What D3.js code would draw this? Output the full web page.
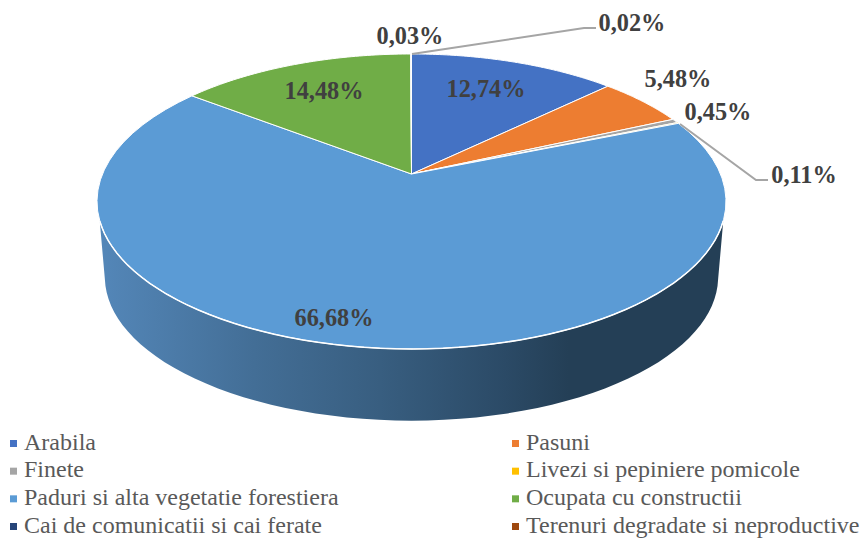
<!DOCTYPE html>
<html><head><meta charset="utf-8">
<script src="https://cdn.jsdelivr.net/npm/d3@7"></script>
<style>html,body{margin:0;padding:0;background:#fff}svg{display:block}</style>
</head><body><svg id="c" width="862" height="538"></svg>
<script>
const categories=["Arabila","Pasuni","Finete","Livezi si pepiniere pomicole","Paduri si alta vegetatie forestiera","Ocupata cu constructii","Cai de comunicatii si cai ferate","Terenuri degradate si neproductive"];
const values=[12.74,5.48,0.45,0.11,66.68,14.48,0.03,0.02];
const labels=["12,74%","5,48%","0,45%","0,11%","66,68%","14,48%","0,03%","0,02%"];
const colors=["#4472c4","#ed7d31","#a5a5a5","#ffc000","#5b9bd5","#70ad47","#264478","#9e480e"];
const labelPos=[[486,91],[678,81],[718,114],[804,177],[334,320],[324,93],[410,38],[632,25]];
const leaders=[null,null,null,[[680,124],[756,180],[768,180]],null,null,null,[[412,54],[584,28],[596,28]]];

const svg=d3.select("#c");
const cx=411.5,apexY=174,a=309,b=142.4,k=0.1864;
function proj(t,r=1,dy=0,s=1){const u=r*Math.sin(t),v=-r*Math.cos(t),w=1-k*v;
  return [cx+s*a*u/w, apexY+dy+s*b*v/w];}
const pie=d3.pie().value(d=>d).sort(null).startAngle(0).endAngle(2*Math.PI);
const arcs=pie(values);
const line=d3.line();
const samples=(t0,t1,f)=>d3.range(0,61).map(i=>f(t0+(t1-t0)*i/60));

const grad=svg.append("defs").append("linearGradient").attr("id","side").attr("gradientUnits","userSpaceOnUse")
 .attr("x1",97).attr("x2",726).attr("y1",0).attr("y2",0);
[[0,"#5487b9"],[0.25,"#436e96"],[0.45,"#385e80"],[0.65,"#2b4a66"],[0.75,"#243f56"],[1,"#243f56"]].forEach(([o,c])=>grad.append("stop").attr("offset",o).attr("stop-color",c));

// side wall
const rimOff=0.316,lowOff=0.25;
const rim=samples(Math.PI/2+rimOff,3*Math.PI/2-rimOff,t=>proj(t));
const low=samples(3*Math.PI/2-lowOff,Math.PI/2+lowOff,t=>proj(t,1,76,0.975));
svg.append("path").attr("d",line(rim.concat(low))+"Z").attr("fill","url(#side)");

// top slices
svg.append("g").selectAll("path").data(arcs).join("path")
 .attr("d",d=>line([proj(0,0)].concat(samples(d.startAngle,d.endAngle,t=>proj(t))))+"Z")
 .attr("fill",(d,i)=>colors[i]).attr("stroke","#fff").attr("stroke-width",1).attr("stroke-linejoin","round");

// bright rim where the top meets the wall
svg.append("path").attr("d",line(rim)).attr("fill","none").attr("stroke","#fff").attr("stroke-width",1.5);

// leaders
svg.append("g").selectAll("path").data(leaders.filter(Boolean)).join("path")
 .attr("d",d=>line(d)).attr("fill","none").attr("stroke","#a5a5a5").attr("stroke-width",2);

// labels
svg.append("g").selectAll("text").data(labels).join("text")
 .attr("x",(d,i)=>labelPos[i][0]).attr("y",(d,i)=>labelPos[i][1])
 .attr("text-anchor","middle").attr("dominant-baseline","middle")
 .attr("font-family","'Liberation Serif'").attr("font-weight","bold").attr("font-size",24.3)
 .attr("fill","#404040").text(d=>d);

// legend
const col=d3.scalePoint().domain([0,1]).range([9,511]);
const row=d3.scalePoint().domain([0,1,2,3]).range([443,526]);
const lg=svg.append("g").selectAll("g").data(categories).join("g")
 .attr("transform",(d,i)=>`translate(${col(i%2)},${row(Math.floor(i/2))})`);
lg.append("rect").attr("x",1).attr("y",-3).attr("width",7).attr("height",7).attr("fill",(d,i)=>colors[i]);
lg.append("text").attr("x",15).attr("y",1).attr("dominant-baseline","middle")
 .attr("font-family","'Liberation Serif'").attr("font-size",24).attr("fill","#595959").text(d=>d);
</script></body></html>
